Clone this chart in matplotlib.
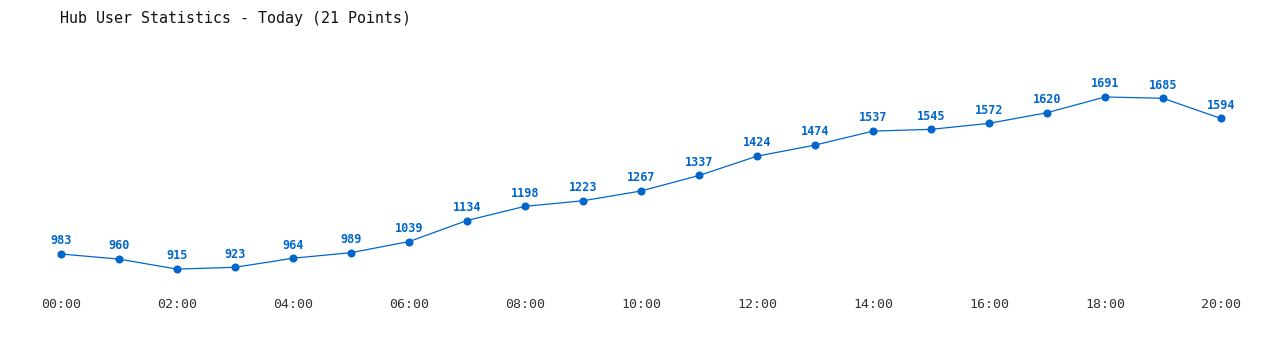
import matplotlib
matplotlib.use('Agg')
import matplotlib.pyplot as plt

hours = [f'{h:02d}:00' for h in range(21)]
users = [983, 960, 915, 923, 964, 989, 1039, 1134, 1198, 1223, 1267,
         1337, 1424, 1474, 1537, 1545, 1572, 1620, 1691, 1685, 1594]
title = 'Hub User Statistics - Today (21 Points)'

blue = '#0066cc'
mono = ['DejaVu Sans Mono']

fig = plt.figure(figsize=(12.8, 3.5), dpi=100)
ax = fig.add_axes([61/1280, 60/350, 1160/1280, 250/350])
x = list(range(len(users)))
ax.plot(x, users, color=blue, lw=0.9, marker='o', ms=4.8, clip_on=False)
for xi, v in zip(x, users):
    ax.annotate(str(v), (xi, v), xytext=(0, 9.5), textcoords='offset points',
                ha='center', va='center', color=blue, fontsize=8.5,
                fontweight='bold', family=mono)

ax.set_xlim(0, 20)
ax.set_ylim(820.7, 1947.8)
ax.set_xticks(x[::2])
ax.set_xticklabels(hours[::2], family=mono, fontsize=9.5, color='#333333')
ax.tick_params(axis='x', length=0, pad=6)
ax.set_yticks([])
for s in ax.spines.values():
    s.set_visible(False)

fig.text(60/1280, 1 - 18/350, title, ha='left', va='center',
         family=mono, fontsize=10.8, color='#111111')

fig.savefig('out.png', dpi=100)
